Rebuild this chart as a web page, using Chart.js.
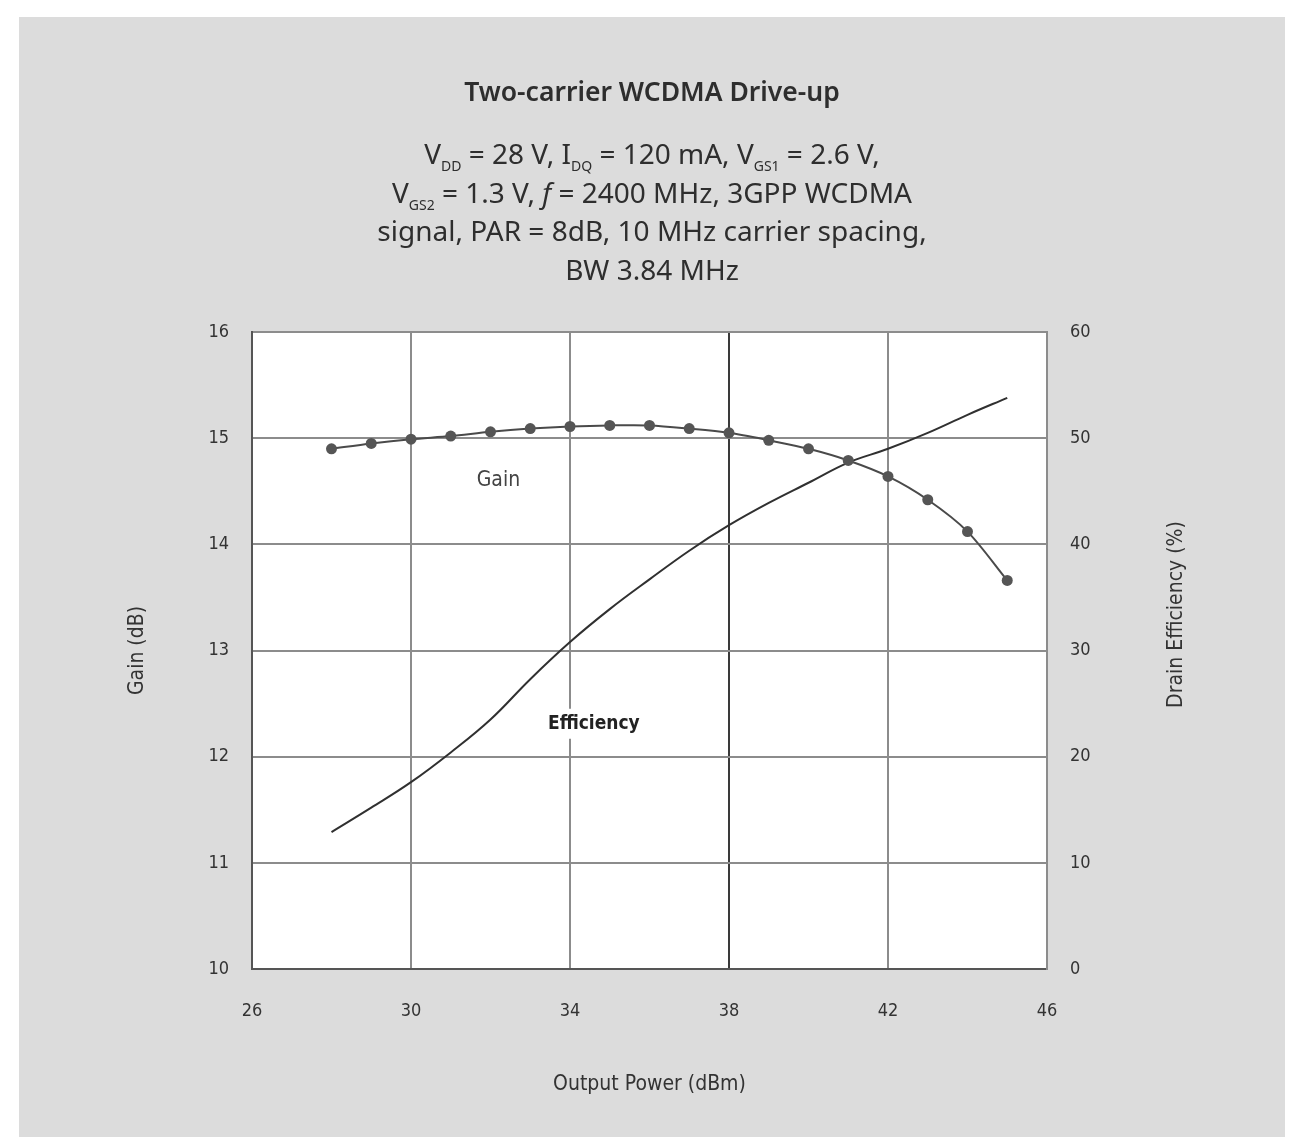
<!DOCTYPE html>
<html>
<head>
<meta charset="utf-8">
<script src="https://cdn.jsdelivr.net/npm/chart.js@4.4.1/dist/chart.umd.min.js"></script>
<style>
    html, body { margin: 0; padding: 0; background: #ffffff; }
    #wrap { position: relative; width: 1304px; height: 1137px; }
    #chart { position: absolute; left: 0; top: 0; }
    .head { position: absolute; left: 0; width: 1304px; text-align: center; color: #2e2e2e;
            font-family: "Noto Sans", sans-serif; }
    #title { top: 73px; font-size: 26.5px; font-weight: 600; }
    #sub { top: 134px; font-size: 28px; line-height: 38.5px; }
    #sub sub { font-size: 14px; vertical-align: -7px; line-height: 0; }
</style>
</head>
<body>
<div id="wrap">
    <canvas id="chart" width="1304" height="1137"></canvas>
    <div class="head" id="title">Two-carrier WCDMA Drive-up</div>
    <div class="head" id="sub">
        V<sub>DD</sub> = 28 V, I<sub>DQ</sub> = 120 mA, V<sub>GS1</sub> = 2.6 V,<br>
        V<sub>GS2</sub> = 1.3 V, <i>f</i> = 2400 MHz, 3GPP WCDMA<br>
        signal, PAR = 8dB, 10 MHz carrier spacing,<br>
        BW 3.84 MHz
    </div>
</div>
<script>
// values
const powerDbm = [28, 29, 30, 31, 32, 33, 34, 35, 36, 37, 38, 39, 40, 41, 42, 43, 44, 45]
const gainDb = [14.90, 14.95, 14.99, 15.02, 15.06, 15.09, 15.11, 15.12, 15.12, 15.09, 15.05, 14.98, 14.90, 14.79, 14.64, 14.42, 14.12, 13.66]
const efficiencyPct = [12.9, 15.2, 17.6, 20.4, 23.5, 27.3, 30.8, 33.9, 36.7, 39.4, 41.8, 43.9, 45.8, 47.7, 49.0, 50.5, 52.2, 53.8]

const xTicks = [26, 30, 34, 38, 42, 46]
const gainTicks = [10, 11, 12, 13, 14, 15, 16]
const effTicks = [0, 10, 20, 30, 40, 50, 60]

const condensed = "'DejaVu Sans Condensed', 'Liberation Sans Narrow', sans-serif"
const tickFont = { family: condensed, size: 18 }
const axisTitleFont = { family: condensed, size: 21 }
const textColor = "#333333"
const gridColor = "#8c8c8c"

function toPoints(xs, ys) {
    return xs.map((x, i) => ({ x: x, y: ys[i] }))
}

// grey panel + white plot area, curve labels, right-hand axis title
const backdrop = {
    id: "backdrop",
    beforeDraw(chart) {
        const ctx = chart.ctx
        const a = chart.chartArea
        ctx.save()
        ctx.fillStyle = "#dcdcdc"
        ctx.fillRect(19, 17, 1266, 1120)
        ctx.fillStyle = "#ffffff"
        ctx.fillRect(a.left, a.top, a.right - a.left, a.bottom - a.top)
        ctx.restore()
    },
    afterDraw(chart) {
        const ctx = chart.ctx
        const x = chart.scales.x
        const y = chart.scales.y
        const a = chart.chartArea
        ctx.save()
        ctx.font = "21px " + condensed
        ctx.textAlign = "center"
        ctx.textBaseline = "middle"
        ctx.fillStyle = "#444444"
        ctx.fillText("Gain", x.getPixelForValue(32.2), y.getPixelForValue(14.6))
        // efficiency label sits on a white patch over the grid line
        const ex = x.getPixelForValue(34.6)
        const ey = y.getPixelForValue(12.31)
        ctx.font = "600 19px " + condensed
        const w = ctx.measureText("Efficiency").width
        ctx.fillStyle = "#ffffff"
        ctx.fillRect(ex - w / 2 - 4, ey - 15, w + 8, 30)
        ctx.fillStyle = "#222222"
        ctx.fillText("Efficiency", ex, ey)
        // right axis title reads bottom-to-top like the left one
        ctx.font = "21px " + condensed
        ctx.fillStyle = textColor
        ctx.translate(a.right + 130, (a.top + a.bottom) / 2 - 36)
        ctx.rotate(-Math.PI / 2)
        ctx.fillText("Drain Efficiency (%)", 0, 0)
        ctx.restore()
    }
}

new Chart(document.getElementById("chart").getContext("2d"), {
    "type": "line",
    "data": {
        "datasets": [
            {
                "label": "Gain",
                "data": toPoints(powerDbm, gainDb),
                "yAxisID": "y",
                "borderColor": "#4a4a4a",
                "backgroundColor": "#555555",
                "borderWidth": 2,
                "pointRadius": 5.5,
                "pointBorderWidth": 0,
                "tension": 0.3
            },
            {
                "label": "Efficiency",
                "data": toPoints(powerDbm, efficiencyPct),
                "yAxisID": "y1",
                "borderColor": "#303030",
                "borderWidth": 2,
                "pointRadius": 0,
                "tension": 0.4
            }
        ]
    },
    "options": {
        "responsive": false,
        "animation": false,
        "layout": { "padding": { "left": 0, "right": 0, "top": 332, "bottom": 0 } },
        "plugins": {
            "legend": { "display": false },
            "tooltip": { "enabled": false }
        },
        "scales": {
            "x": {
                "type": "linear",
                "min": 26,
                "max": 46,
                "afterBuildTicks": s => { s.ticks = xTicks.map(v => ({ value: v })) },
                "afterFit": s => { s.height = 1137 - 969 },
                "grid": {
                    "color": c => c.tick && c.tick.value === 38 ? "#3a3a3a" : gridColor,
                    "lineWidth": 2,
                    "drawTicks": false
                },
                "border": { "color": "#555555", "width": 2 },
                "ticks": { "font": tickFont, "color": textColor, "padding": 32 },
                "title": {
                    "display": true,
                    "text": "Output Power (dBm)",
                    "font": axisTitleFont,
                    "color": textColor,
                    "padding": { "top": 0, "bottom": 40 }
                }
            },
            "y": {
                "position": "left",
                "min": 10,
                "max": 16,
                "afterBuildTicks": s => { s.ticks = gainTicks.map(v => ({ value: v })) },
                "afterFit": s => { s.width = 252 },
                "grid": { "color": gridColor, "lineWidth": 2, "drawTicks": false },
                "border": { "color": "#555555", "width": 2 },
                "ticks": { "font": tickFont, "color": textColor, "padding": 23 },
                "title": {
                    "display": true,
                    "text": "Gain (dB)",
                    "font": axisTitleFont,
                    "color": textColor,
                    "padding": { "top": 125, "bottom": 0 }
                }
            },
            "y1": {
                "position": "right",
                "min": 0,
                "max": 60,
                "afterBuildTicks": s => { s.ticks = effTicks.map(v => ({ value: v })) },
                "afterFit": s => { s.width = 1304 - 1047 },
                "grid": { "display": false, "drawTicks": false },
                "border": { "color": gridColor, "width": 2 },
                "ticks": { "font": tickFont, "color": textColor, "padding": 23 }
            }
        }
    },
    "plugins": [backdrop]
})
</script>
</body>
</html>
